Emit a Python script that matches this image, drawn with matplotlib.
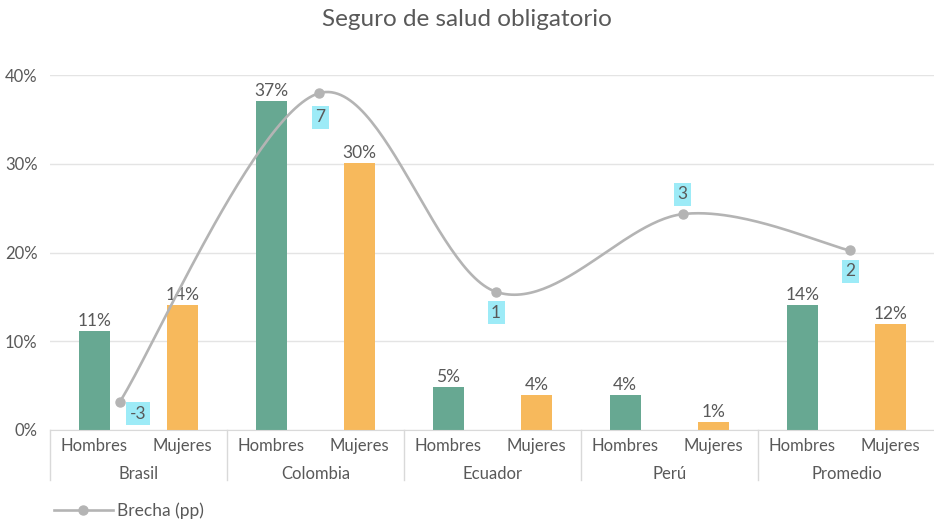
import numpy as np
import matplotlib
matplotlib.use("Agg")
import matplotlib.pyplot as plt
import matplotlib.transforms as mtransforms
from matplotlib.lines import Line2D

# === DATA ===
paises = ["Brasil", "Colombia", "Ecuador", "Perú", "Promedio"]
sexos = ["Hombres", "Mujeres"]
hombres = [11.1, 37.1, 4.9, 3.9, 14.1]   # %
mujeres = [14.1, 30.1, 3.9, 0.9, 11.9]   # %
brecha = [-3.0, 7.0, 0.56, 3.08, 1.9]    # pp
titulo = "Seguro de salud obligatorio"
yticks = [0, 10, 20, 30, 40]

# === STYLE / LAYOUT ===
plt.rcParams['font.family'] = ['Lato', 'DejaVu Sans']
c_h = '#67A892'
c_m = '#F7B95C'
c_line = '#B4B4B4'
c_box = '#9DEBF7'
c_txt = '#595959'
c_grid = '#E4E4E4'
bar_w = 0.35
brecha_x = [0.79, 3.04, 5.04, 7.15, 9.04]   # where the line points sit (slot units)
lbl_off = [(18, -12), (1, -24), (0, -21), (0, 20), (0, -21)]  # pixels

W, H = 934, 522
fig = plt.figure(figsize=(W / 100, H / 100), dpi=100)
ax = fig.add_axes([50 / W, (H - 430) / H, 885 / W, 355 / H])
ax.set_xlim(0, 2 * len(paises))
ax.set_ylim(0, 40)

# bars
for i in range(len(paises)):
    xh = 2 * i + 0.5
    xm = 2 * i + 1.5
    ax.bar(xh, hombres[i], width=bar_w, color=c_h, zorder=2)
    ax.bar(xm, mujeres[i], width=bar_w, color=c_m, zorder=2)
    for x, v in [(xh, hombres[i]), (xm, mujeres[i])]:
        ax.annotate(f"{v:.0f}%", (x, v), xytext=(0, 2), textcoords='offset pixels',
                    ha='center', va='bottom', fontsize=12.5, color=c_txt)

# axes cosmetics
ax.set_yticks(yticks)
ax.set_yticklabels([f"{t}%" for t in yticks], fontsize=12, color=c_txt)
ax.yaxis.grid(True, color=c_grid, lw=1)
ax.set_axisbelow(True)
for s in ['left', 'right', 'top']:
    ax.spines[s].set_visible(False)
ax.spines['bottom'].set_color('#D9D9D9')
ax.tick_params(axis='y', length=0, pad=9)
ax.set_xticks([k + 0.5 for k in range(2 * len(paises))])
ax.set_xticklabels(sexos * len(paises), fontsize=12, color=c_txt)
ax.tick_params(axis='x', length=0, pad=6)

# group labels + separators
trans = mtransforms.blended_transform_factory(ax.transData, ax.transAxes)
for i, p in enumerate(paises):
    ax.text(2 * i + 1, -44 / 355, p, transform=trans, ha='center', va='center',
            fontsize=12, color=c_txt)
for k in range(len(paises) + 1):
    ax.plot([2 * k, 2 * k], [0, -50 / 355], transform=trans, color='#D9D9D9',
            lw=1, clip_on=False)

# secondary axis with smoothed line
ax2 = ax.twinx()
ax2.set_ylim(-3.92, 7.59)
ax2.axis('off')

px = np.array(brecha_x)
py = np.array(brecha)
P = np.column_stack([px, py])
Pext = np.vstack([P[0], P, P[-1]])
t = np.linspace(0, 1, 60)[:, None]
curve = []
for i in range(len(P) - 1):
    p0, p1, p2, p3 = Pext[i], Pext[i + 1], Pext[i + 2], Pext[i + 3]
    c1 = p1 + (p2 - p0) / 6
    c2 = p2 - (p3 - p1) / 6
    seg = (1 - t) ** 3 * p1 + 3 * (1 - t) ** 2 * t * c1 + 3 * (1 - t) * t ** 2 * c2 + t ** 3 * p2
    curve.append(seg)
curve = np.vstack(curve)
ax2.plot(curve[:, 0], curve[:, 1], color=c_line, lw=1.9, zorder=3)
ax2.plot(px, py, 'o', color=c_line, ms=6.5, zorder=4)
for x, v, off in zip(px, py, lbl_off):
    ax2.annotate(f"{v:.0f}", (x, v), xytext=off, textcoords='offset pixels',
                 ha='center', va='center', fontsize=12.5, color=c_txt,
                 bbox=dict(boxstyle='square,pad=0.2', fc=c_box, ec='none'))

fig.text(0.5, 1 - 20 / H, titulo, ha='center', va='center', fontsize=17.5, color=c_txt)

handle = Line2D([], [], color=c_line, lw=1.9, marker='o', ms=6.5)
leg = fig.legend([handle], ["Brecha (pp)"], loc='center left',
                 bbox_to_anchor=(38 / W, 1 - 511 / H), frameon=False, handlelength=3.4,
                 handletextpad=0.25, fontsize=12.5)
for txt in leg.get_texts():
    txt.set_color(c_txt)

fig.savefig("out.png", dpi=100)
